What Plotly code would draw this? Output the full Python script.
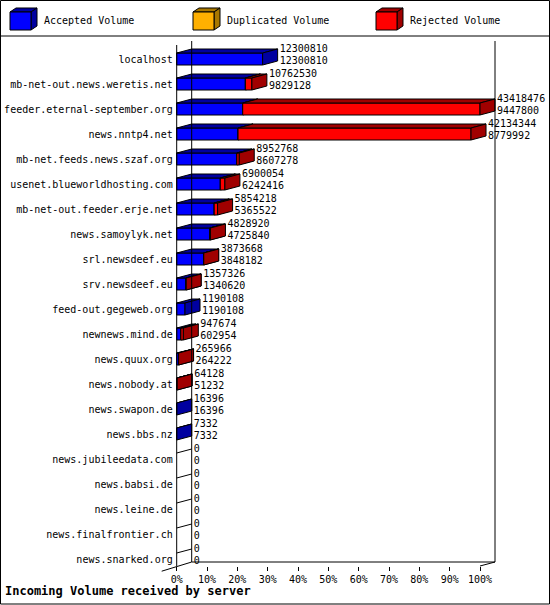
import plotly.graph_objects as go

# ---- data ----
servers = [
    "localhost", "mb-net-out.news.weretis.net", "feeder.eternal-september.org",
    "news.nntp4.net", "mb-net.feeds.news.szaf.org", "usenet.blueworldhosting.com",
    "mb-net-out.feeder.erje.net", "news.samoylyk.net", "srl.newsdeef.eu",
    "srv.newsdeef.eu", "feed-out.gegeweb.org", "newnews.mind.de", "news.quux.org",
    "news.nobody.at", "news.swapon.de", "news.bbs.nz", "news.jubileedata.com",
    "news.babsi.de", "news.leine.de", "news.finalfrontier.ch", "news.snarked.org",
]
total_volume = [
    12300810, 10762530, 43418476, 42134344, 8952768, 6900054, 5854218, 4828920,
    3873668, 1357326, 1190108, 947674, 265966, 64128, 16396, 7332, 0, 0, 0, 0, 0,
]
accepted_volume = [
    12300810, 9829128, 9447800, 8779992, 8607278, 6242416, 5365522, 4725840,
    3848182, 1340620, 1190108, 602954, 264222, 51232, 16396, 7332, 0, 0, 0, 0, 0,
]
duplicated_volume = [0] * len(servers)
rejected_volume = [t - a - d for t, a, d in zip(total_volume, accepted_volume, duplicated_volume)]

series = [
    ("Accepted Volume", accepted_volume, "#0000FF", "#0000A0"),
    ("Duplicated Volume", duplicated_volume, "#FFB000", "#A87800"),
    ("Rejected Volume", rejected_volume, "#FF0000", "#A00000"),
]
pct_ticks = list(range(0, 101, 10))
pct_labels = ["%d%%" % p for p in pct_ticks]

W, H = 550, 605
FONT = "DejaVu Sans Mono"

# pixel geometry of the chart (front 0% edge, scale, row pitch)
X0 = 176.7
PXP = (480 - X0) / 100.0
ROW0 = 59
ROWPX = 25.0
DX = 15 / PXP          # depth in percent units
DY = 4 / ROWPX         # depth in row units
HH = 6 / ROWPX         # half height of front face

def px_x(p):
    return p / W

def px_y(p):
    return 1 - p / H

vmax = max(total_volume)

fig = go.Figure()

# stacked 3D bars: front, top, side faces per series
starts = [0.0] * len(servers)
for name, vals, col, dark in series:
    fx, fy, tx, ty, sx, sy = [], [], [], [], [], []
    for i, v in enumerate(vals):
        if v <= 0:
            continue
        x0 = starts[i]
        x1 = x0 + v / vmax * 100
        starts[i] = x1
        t, b = i - HH, i + HH
        fx += [x0, x1, x1, x0, x0, None]
        fy += [t, t, b, b, t, None]
        tx += [x0, x0 + DX, x1 + DX, x1, x0, None]
        ty += [t, t - DY, t - DY, t, t, None]
        sx += [x1, x1 + DX, x1 + DX, x1, x1, None]
        sy += [t, t - DY, b - DY, b, t, None]
    for xs, ys, c in [(fx, fy, col), (tx, ty, dark), (sx, sy, dark)]:
        if xs:
            fig.add_trace(go.Scatter(x=xs, y=ys, fill="toself", fillcolor=c,
                                     mode="lines", line=dict(color="black", width=1),
                                     hoverinfo="skip", showlegend=False))

# zero-volume rows: flat top edge only
zx, zy = [], []
for i, t in enumerate(total_volume):
    if t == 0:
        zx += [0, DX, None]
        zy += [i - HH, i - HH - DY, None]
fig.add_trace(go.Scatter(x=zx, y=zy, mode="lines", line=dict(color="black", width=1),
                         hoverinfo="skip", showlegend=False))

# value labels
ends = [t / vmax * 100 + DX + 2 / PXP for t in total_volume]
fig.add_trace(go.Scatter(
    x=ends + ends,
    y=[i - 0.4 for i in range(len(servers))] + [i + 0.08 for i in range(len(servers))],
    text=[str(v) for v in total_volume] + [str(v) for v in accepted_volume],
    mode="text", textposition="middle right",
    textfont=dict(family=FONT, size=10, color="black"),
    hoverinfo="skip", showlegend=False))

# dummy trace for the tick/label axes
fig.add_trace(go.Scatter(x=[0], y=[0], xaxis="x2", yaxis="y2", mode="markers",
                         marker=dict(opacity=0), hoverinfo="skip", showlegend=False))

# frame lines (walls and floor)
yt_front = (45 - ROW0) / ROWPX
yt_back = (41 - ROW0) / ROWPX
yb_front = (566 - ROW0) / ROWPX
yb_back = yb_front - DY
line = dict(color="black", width=1)
shapes = [
    dict(type="line", xref="x", yref="y", x0=0, x1=0, y0=yt_front, y1=yb_front, line=line),
    dict(type="line", xref="x", yref="y", x0=DX, x1=DX, y0=yt_back, y1=yb_back, line=line),
    dict(type="line", xref="x", yref="y", x0=100 + DX, x1=100 + DX, y0=yt_back, y1=yb_back, line=line),
    dict(type="line", xref="x", yref="y", x0=DX, x1=100 + DX, y0=yb_back, y1=yb_back, line=line),
    dict(type="line", xref="x", yref="y", x0=100, x1=100 + DX, y0=yb_front, y1=yb_back, line=line),
    dict(type="line", xref="x", yref="y", x0=-DX, x1=DX, y0=yb_front + DY * 1.3, y1=yb_back, line=line),
    # outer border and legend separator
    dict(type="rect", xref="paper", yref="paper", x0=px_x(0.5), x1=px_x(549.5),
         y0=px_y(604), y1=px_y(0.5), line=line),
    dict(type="line", xref="paper", yref="paper", x0=0, x1=1,
         y0=px_y(36), y1=px_y(36), line=line),
]

# legend cubes and text
annotations = []
legend_x = [10, 193, 376]
for (name, vals, col, dark), lx in zip(series, legend_x):
    fx0, fx1, fy0, fy1 = lx, lx + 21, 12, 30
    shapes.append(dict(type="path", xref="paper", yref="paper",
                       path="M %f %f L %f %f L %f %f L %f %f Z" % (
                           px_x(fx0), px_y(fy0), px_x(fx0 + 6), px_y(fy0 - 4),
                           px_x(fx1 + 6), px_y(fy0 - 4), px_x(fx1), px_y(fy0)),
                       fillcolor=dark, line=line))
    shapes.append(dict(type="path", xref="paper", yref="paper",
                       path="M %f %f L %f %f L %f %f L %f %f Z" % (
                           px_x(fx1), px_y(fy0), px_x(fx1 + 6), px_y(fy0 - 4),
                           px_x(fx1 + 6), px_y(fy1 - 4), px_x(fx1), px_y(fy1)),
                       fillcolor=dark, line=line))
    shapes.append(dict(type="rect", xref="paper", yref="paper",
                       x0=px_x(fx0), x1=px_x(fx1), y0=px_y(fy1), y1=px_y(fy0),
                       fillcolor=col, line=line))
    annotations.append(dict(xref="paper", yref="paper", x=px_x(lx + 32), y=px_y(21),
                            text=name, showarrow=False, xanchor="left", yanchor="middle",
                            font=dict(family=FONT, size=10, color="black")))

annotations.append(dict(xref="paper", yref="paper", x=px_x(3), y=px_y(591),
                        text="<b>Incoming Volume received by server</b>", showarrow=False,
                        xanchor="left", yanchor="middle",
                        font=dict(family=FONT, size=12, color="black")))

fig.update_layout(
    width=W, height=H, autosize=False,
    margin=dict(l=0, r=0, t=0, b=0, pad=0),
    paper_bgcolor="white", plot_bgcolor="rgba(0,0,0,0)",
    showlegend=False,
    shapes=shapes, annotations=annotations,
    xaxis=dict(domain=[0, 1], range=[-X0 / PXP, (W - X0) / PXP], visible=False,
               automargin=False),
    yaxis=dict(domain=[0, 1], range=[(H - ROW0) / ROWPX, -ROW0 / ROWPX], visible=False,
               automargin=False),
    xaxis2=dict(domain=[px_x(X0), px_x(480)], range=[0, 100], anchor="y2",
                tickvals=pct_ticks, ticktext=pct_labels, ticks="outside", ticklen=4,
                tickcolor="black", showgrid=False, zeroline=False, showline=False,
                automargin=False,
                tickfont=dict(family=FONT, size=10, color="black")),
    yaxis2=dict(domain=[px_y(566), px_y(45)], range=[yb_front, yt_front], anchor="x2",
                tickvals=list(range(len(servers))), ticktext=servers, ticks="",
                ticklabelstandoff=3, automargin=False,
                showgrid=False, zeroline=False, showline=False,
                tickfont=dict(family=FONT, size=10, color="black")),
)

# the page has a default body margin; drop it so the chart sits at 0,0
fig.write_html("out.html", post_script="document.body.style.margin='0';",
               config={"displayModeBar": False, "responsive": False})
